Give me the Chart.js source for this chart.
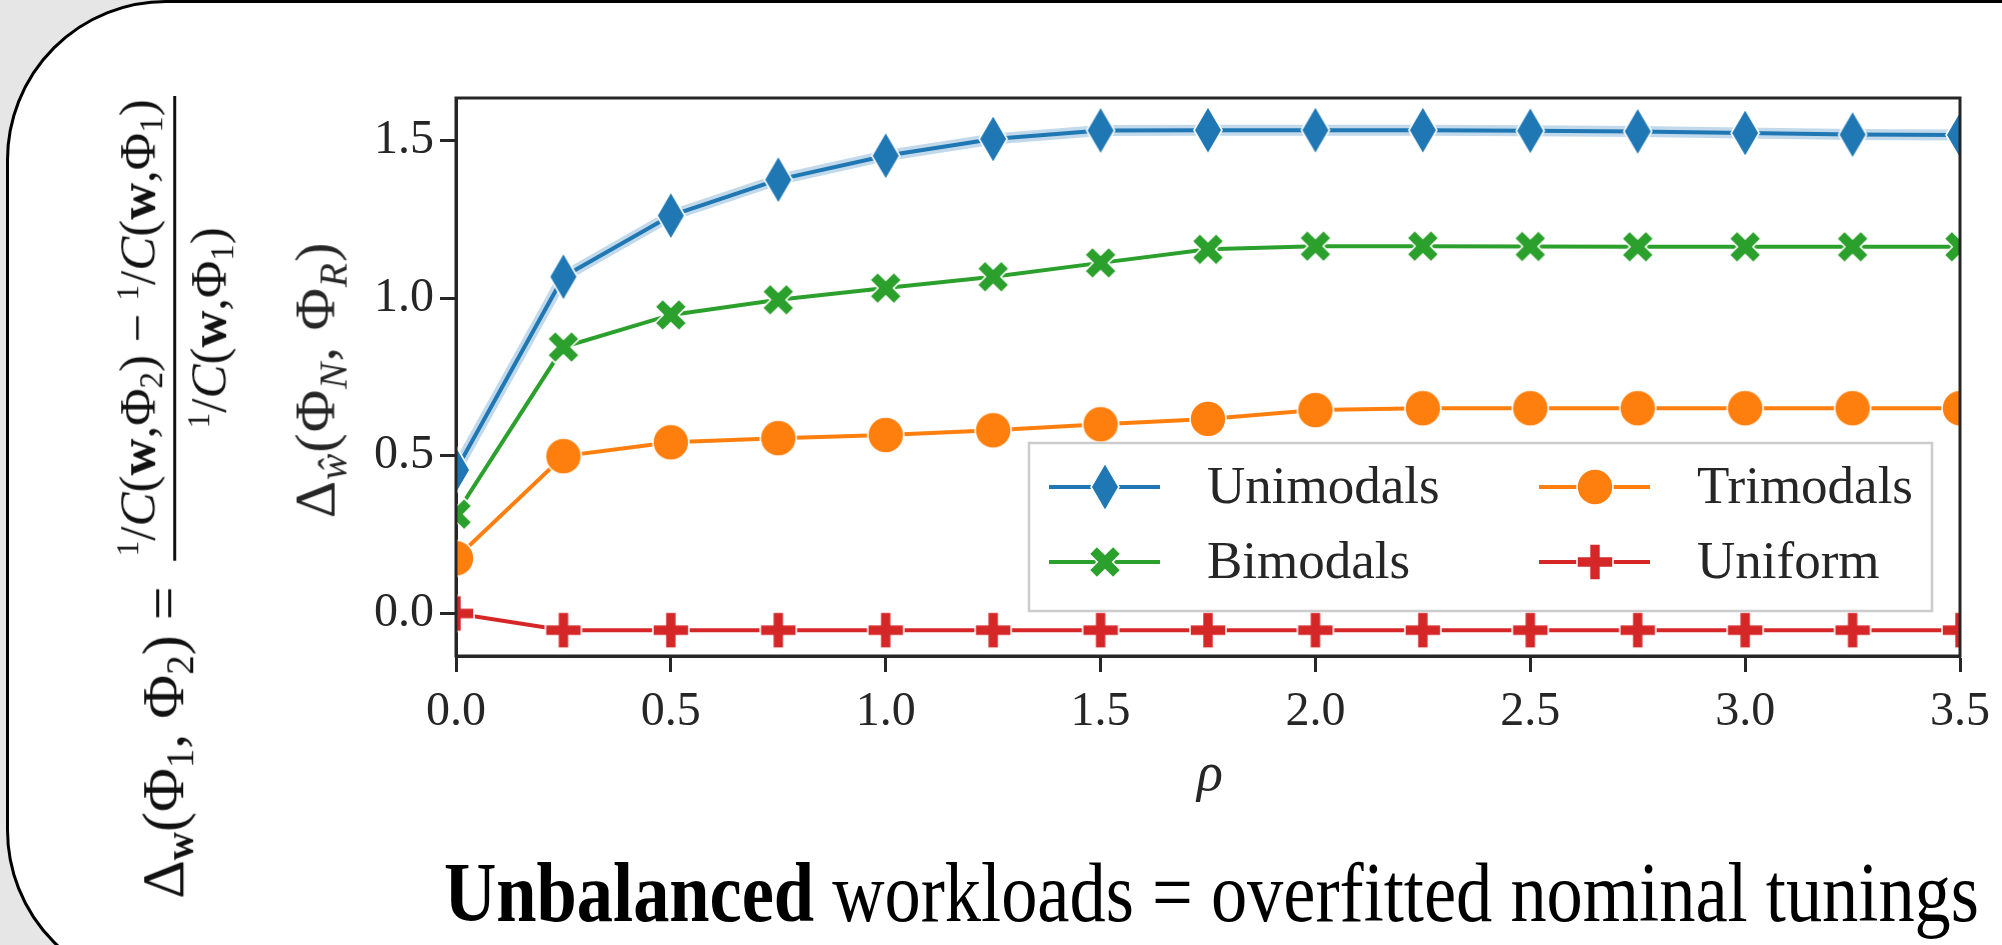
<!DOCTYPE html>
<html>
<head>
<meta charset="utf-8">
<script src="https://cdn.jsdelivr.net/npm/chart.js@4.4.1/dist/chart.umd.min.js"></script>
<style>
  html, body { margin: 0; padding: 0; }
  body { width: 2002px; height: 945px; background: #e6e6e6; position: relative; overflow: hidden; font-family: "Liberation Serif", "DejaVu Serif", serif; color: #222; }
  #panel { position: absolute; left: 6px; top: 0px; width: 2300px; height: 990px; box-sizing: border-box; border: 3px solid #000; border-radius: 160px; background: #fff; }
  #chart { position: absolute; left: 0; top: 0; }
  .rot { position: absolute; transform: translate(-50%, -50%) rotate(-90deg); white-space: nowrap; }
  #eq { display: flex; align-items: center; font-size: 60px; color: #111; }
  #eq .frac { display: inline-flex; flex-direction: column; align-items: center; margin-left: 26px; font-size: 51px; position: relative; top: 9px; }
  #eq .num { border-bottom: 3px solid #111; padding: 0 4px 3px 4px; }
  #eq .den { padding-top: 3px; }
  #eq sup { font-size: 0.62em; vertical-align: 0.5em; }
  #eq sub { font-size: 0.65em; vertical-align: -0.25em; }
  #ylab { font-size: 58px; color: #262626; letter-spacing: 1px; }
  #ylab sub { font-size: 0.68em; vertical-align: -0.3em; }
  #xlab { position: absolute; font-size: 54px; font-style: italic; color: #262626; transform: translate(-50%, -50%); }
  #cap { position: absolute; left: 444px; top: 851px; font-size: 84px; line-height: 1; white-space: nowrap; color: #000; transform-origin: 0 0; }
</style>
</head>
<body>
<div id="panel"></div>
<canvas id="chart" width="2002" height="945"></canvas>

<div id="eq" class="rot" style="left:166px; top:497px;">
  <span class="lhs">&Delta;<sub><b>w</b></sub>(&Phi;<sub>1</sub>, &Phi;<sub>2</sub>) =</span>
  <span class="frac">
    <span class="num"><sup>1</sup>/<i>C</i>(<b>w</b>,&Phi;<sub>2</sub>) &minus; <sup>1</sup>/<i>C</i>(<b>w</b>,&Phi;<sub>1</sub>)</span>
    <span class="den"><sup>1</sup>/<i>C</i>(<b>w</b>,&Phi;<sub>1</sub>)</span>
  </span>
</div>
<div id="ylab" class="rot" style="left:319px; top:380px;">&Delta;<sub><i>&#373;</i></sub>(&Phi;<sub><i>N</i></sub>, &Phi;<sub><i>R</i></sub>)</div>
<div id="xlab" style="left:1210px; top:772px;">&rho;</div>
<div id="cap"><b>Unbalanced</b> workloads = overfitted nominal tunings</div>

<script>
// values
const rho = [0, 0.25, 0.5, 0.75, 1.0, 1.25, 1.5, 1.75, 2.0, 2.25, 2.5, 2.75, 3.0, 3.25, 3.5];
const unimodals = [0.455, 1.068, 1.262, 1.376, 1.452, 1.505, 1.532, 1.533, 1.533, 1.533, 1.531, 1.529, 1.524, 1.519, 1.518];
const bimodals = [0.315, 0.845, 0.947, 0.995, 1.032, 1.068, 1.112, 1.155, 1.165, 1.165, 1.164, 1.163, 1.163, 1.163, 1.163];
const trimodals = [0.175, 0.499, 0.543, 0.556, 0.566, 0.581, 0.600, 0.617, 0.645, 0.651, 0.651, 0.651, 0.651, 0.651, 0.651];
const uniform = [0.0, -0.053, -0.053, -0.053, -0.053, -0.053, -0.053, -0.053, -0.053, -0.053, -0.053, -0.053, -0.053, -0.053, -0.053];
const seriesNames = ['Unimodals', 'Bimodals', 'Trimodals', 'Uniform'];
const xTicks = [0, 0.5, 1.0, 1.5, 2.0, 2.5, 3.0, 3.5];
const yTicks = [0.0, 0.5, 1.0, 1.5];

const blue = '#1f77b4', orange = '#ff7f0e', green = '#2ca02c', red = '#d62728';
const axisColor = '#262626';
const tickFont = { family: '"Liberation Serif", serif', size: 48 };

function polyPlus(ctx, cx, cy, a, L, angle) {
  const pts = [[a, L], [a, a], [L, a], [L, -a], [a, -a], [a, -L], [-a, -L], [-a, -a], [-L, -a], [-L, a], [-a, a], [-a, L]];
  const c = Math.cos(angle), s = Math.sin(angle);
  ctx.beginPath();
  pts.forEach((p, i) => {
    const x = cx + p[0] * c - p[1] * s;
    const y = cy + p[0] * s + p[1] * c;
    if (i == 0) ctx.moveTo(x, y); else ctx.lineTo(x, y);
  });
  ctx.closePath();
}

function makeMarker(kind, color) {
  const c = document.createElement('canvas');
  const ctx = c.getContext('2d');
  if (kind == 'diamond') {
    c.width = 34; c.height = 52;
    ctx.beginPath();
    ctx.moveTo(17, 2); ctx.lineTo(31, 26); ctx.lineTo(17, 50); ctx.lineTo(3, 26);
    ctx.closePath();
  } else if (kind == 'x') {
    c.width = 40; c.height = 40;
    polyPlus(ctx, 20, 20, 5.5, 17, Math.PI / 4);
  } else if (kind == 'plus') {
    c.width = 42; c.height = 42;
    polyPlus(ctx, 21, 21, 5.5, 18, 0);
  } else {
    c.width = 42; c.height = 42;
    ctx.beginPath();
    ctx.arc(21, 21, 18, 0, Math.PI * 2);
  }
  ctx.fillStyle = color;
  ctx.fill();
  ctx.lineWidth = 1.6;
  ctx.strokeStyle = '#fff';
  ctx.stroke();
  return c;
}

const markers = [makeMarker('diamond', blue), makeMarker('x', green), makeMarker('circle', orange), makeMarker('plus', red)];
const colors = [blue, green, orange, red];
const values = [unimodals, bimodals, trimodals, uniform];

function toPoints(arr) {
  return arr.map((v, i) => ({ x: rho[i], y: v }));
}

const datasets = [];
for (let i = 0; i < seriesNames.length; i++) {
  datasets.push({
    label: seriesNames[i],
    data: toPoints(values[i]),
    borderColor: colors[i],
    backgroundColor: colors[i],
    borderWidth: 4,
    pointStyle: markers[i],
    pointRadius: 17,
    pointHoverRadius: 17,
    tension: 0
  });
}
// thin confidence band around the unimodal line
datasets.push({
  label: 'band',
  data: toPoints(unimodals),
  borderColor: 'rgba(31, 119, 180, 0.28)',
  borderWidth: 11,
  pointRadius: 0,
  tension: 0
});

const framePlugin = {
  id: 'frame',
  afterDatasetsDraw(chart) {
    const a = chart.chartArea;
    const ctx = chart.ctx;
    ctx.save();
    ctx.strokeStyle = axisColor;
    ctx.lineWidth = 3;
    ctx.strokeRect(a.left, a.top, a.right - a.left, a.bottom - a.top);
    ctx.restore();
  }
};

const legendPlugin = {
  id: 'boxLegend',
  afterDraw(chart) {
    const a = chart.chartArea;
    const ctx = chart.ctx;
    const right = a.right - 28, bottom = a.bottom - 45;
    const w = 903, h = 168;
    const left = right - w, top = bottom - h;
    ctx.save();
    ctx.fillStyle = 'rgba(255,255,255,0.85)';
    ctx.fillRect(left, top, w, h);
    ctx.strokeStyle = '#cccccc';
    ctx.lineWidth = 2.5;
    ctx.strokeRect(left, top, w, h);
    // column 1: first two series, column 2: the other two
    const cols = [left + 20, left + 510];
    const rows = [top + 44, top + 119];
    ctx.font = '53px "Liberation Serif", serif';
    ctx.textBaseline = 'middle';
    ctx.fillStyle = '#262626';
    for (let i = 0; i < 4; i++) {
      const x0 = cols[Math.floor(i / 2)];
      const y0 = rows[i % 2];
      const ds = chart.data.datasets[i];
      ctx.strokeStyle = ds.borderColor;
      ctx.lineWidth = 4;
      ctx.beginPath();
      ctx.moveTo(x0, y0);
      ctx.lineTo(x0 + 111, y0);
      ctx.stroke();
      const m = ds.pointStyle;
      ctx.drawImage(m, x0 + 56 - m.width / 2, y0 - m.height / 2);
      ctx.fillText(ds.label, x0 + 158, y0 + 2);
    }
    ctx.restore();
  }
};

new Chart(document.getElementById('chart'), {
  type: 'line',
  data: { datasets: datasets },
  options: {
    responsive: false,
    animation: false,
    devicePixelRatio: 1,
    layout: { padding: { left: 256, top: 98, right: 36, bottom: 139 } },
    plugins: { legend: { display: false }, tooltip: { enabled: false } },
    scales: {
      x: {
        type: 'linear',
        min: 0,
        max: 3.5,
        afterFit: (scale) => { scale.height = 150; },
        afterBuildTicks: (scale) => { scale.ticks = xTicks.map(v => ({ value: v })); },
        ticks: { font: tickFont, color: axisColor, padding: 12, maxRotation: 0, callback: (v) => Number(v).toFixed(1) },
        grid: { drawOnChartArea: false, drawTicks: true, tickLength: 16, tickWidth: 3, tickColor: axisColor },
        border: { display: true, color: axisColor, width: 3 }
      },
      y: {
        type: 'linear',
        min: -0.135,
        max: 1.635,
        afterFit: (scale) => { scale.width = 200; },
        afterBuildTicks: (scale) => { scale.ticks = yTicks.map(v => ({ value: v })); },
        ticks: { font: tickFont, color: axisColor, padding: 6, callback: (v) => Number(v).toFixed(1) },
        grid: { drawOnChartArea: false, drawTicks: true, tickLength: 16, tickWidth: 3, tickColor: axisColor },
        border: { display: true, color: axisColor, width: 3 }
      }
    }
  },
  plugins: [framePlugin, legendPlugin]
});

// squeeze the caption to the width it has in the reference
const cap = document.getElementById('cap');
const capWidth = cap.getBoundingClientRect().width;
cap.style.transform = 'scaleX(' + (1535 / capWidth) + ')';
</script>
</body>
</html>
